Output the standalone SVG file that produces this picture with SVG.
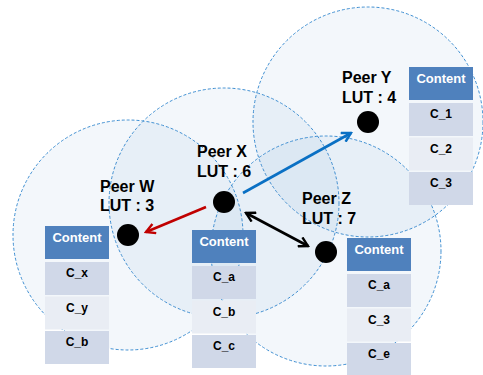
<svg xmlns="http://www.w3.org/2000/svg" width="483" height="375" viewBox="0 0 483 375">
<style>
.range{fill:#4f81bd;fill-opacity:0.065;stroke:#3f8fd2;stroke-width:1;stroke-dasharray:3 2}
.dot{fill:#000}
.lbl{font-family:"Liberation Sans",Arial,sans-serif;font-weight:bold;font-size:16px;fill:#000}
.hd{fill:#4f81bd}
.r1{fill:#d0d8e8}
.r2{fill:#e9edf4}
.ht{font-family:"Liberation Sans",Arial,sans-serif;font-weight:bold;font-size:13px;fill:#fff;text-anchor:middle}
.ct{font-family:"Liberation Sans",Arial,sans-serif;font-weight:bold;font-size:12px;fill:#000;text-anchor:middle}
.arr{fill:none;stroke-width:2.6}
</style>
<defs>
<marker id="mBlue" viewBox="0 0 12 12" refX="10" refY="6" markerWidth="12" markerHeight="12" markerUnits="userSpaceOnUse" orient="auto"><path d="M1,1 L10,6 L1,11" fill="none" stroke="#0a70c4" stroke-width="2.4"/></marker>
<marker id="mRed" viewBox="0 0 12 12" refX="10" refY="6" markerWidth="12" markerHeight="12" markerUnits="userSpaceOnUse" orient="auto"><path d="M1,1 L10,6 L1,11" fill="none" stroke="#c00000" stroke-width="2.4"/></marker>
<marker id="mBlack" viewBox="0 0 12 12" refX="10" refY="6" markerWidth="12" markerHeight="12" markerUnits="userSpaceOnUse" orient="auto-start-reverse"><path d="M1,1 L10,6 L1,11" fill="none" stroke="#000" stroke-width="2.4"/></marker>
</defs>
<rect width="483" height="375" fill="#fff"/>
<g id="ranges">
<circle class="range" cx="368" cy="122" r="115"/>
<circle class="range" cx="224" cy="203" r="115"/>
<circle class="range" cx="128" cy="235" r="115"/>
<circle class="range" cx="326" cy="251" r="115"/>
</g>
<g id="connectors">
<line class="arr" x1="243" y1="193" x2="351" y2="133" stroke="#0a70c4" marker-end="url(#mBlue)"/>
<line class="arr" x1="206" y1="207" x2="146" y2="232" stroke="#c00000" marker-end="url(#mRed)"/>
<line class="arr" x1="246" y1="213" x2="308" y2="246" stroke="#000" marker-start="url(#mBlack)" marker-end="url(#mBlack)"/>
</g>
<g id="peer-Y">
<circle class="dot" cx="368" cy="122" r="11"/>
<text class="lbl" x="342" y="83">Peer Y</text>
<text class="lbl" x="342" y="103">LUT : 4</text>
<g transform="translate(409,67)">
<rect class="hd" width="64" height="33"/><text class="ht" x="32" y="15.5">Content</text>
<rect class="r1" y="36" width="64" height="33"/><text class="ct" x="32" y="51">C_1</text>
<rect class="r2" y="70.5" width="64" height="33"/><text class="ct" x="32" y="85.5">C_2</text>
<rect class="r1" y="105" width="64" height="33"/><text class="ct" x="32" y="120">C_3</text>
</g>
</g>
<g id="peer-X">
<circle class="dot" cx="224" cy="202" r="11"/>
<text class="lbl" x="197" y="157">Peer X</text>
<text class="lbl" x="197" y="177">LUT : 6</text>
<g transform="translate(192,230)">
<rect class="hd" width="64" height="33"/><text class="ht" x="32" y="15.5">Content</text>
<rect class="r1" y="36" width="64" height="33"/><text class="ct" x="32" y="51">C_a</text>
<rect class="r2" y="70.5" width="64" height="33"/><text class="ct" x="32" y="85.5">C_b</text>
<rect class="r1" y="105" width="64" height="33"/><text class="ct" x="32" y="120">C_c</text>
</g>
</g>
<g id="peer-W">
<circle class="dot" cx="128" cy="235" r="11"/>
<text class="lbl" x="100" y="192">Peer W</text>
<text class="lbl" x="100" y="211">LUT : 3</text>
<g transform="translate(45,226)">
<rect class="hd" width="64" height="33"/><text class="ht" x="32" y="15.5">Content</text>
<rect class="r1" y="36" width="64" height="33"/><text class="ct" x="32" y="51">C_x</text>
<rect class="r2" y="70.5" width="64" height="33"/><text class="ct" x="32" y="85.5">C_y</text>
<rect class="r1" y="105" width="64" height="33"/><text class="ct" x="32" y="120">C_b</text>
</g>
</g>
<g id="peer-Z">
<circle class="dot" cx="326" cy="252" r="11"/>
<text class="lbl" x="302" y="204">Peer Z</text>
<text class="lbl" x="302" y="224">LUT : 7</text>
<g transform="translate(347,238)">
<rect class="hd" width="64" height="33"/><text class="ht" x="32" y="15.5">Content</text>
<rect class="r1" y="36" width="64" height="33"/><text class="ct" x="32" y="51">C_a</text>
<rect class="r2" y="70.5" width="64" height="33"/><text class="ct" x="32" y="85.5">C_3</text>
<rect class="r1" y="105" width="64" height="33"/><text class="ct" x="32" y="120">C_e</text>
</g>
</g>
</svg>
